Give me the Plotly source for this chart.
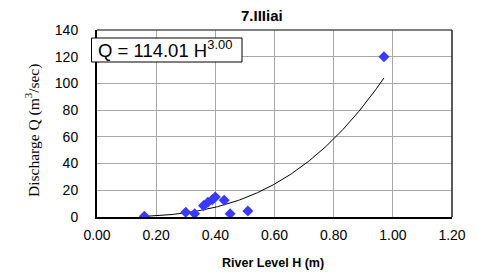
import numpy as np
import plotly.graph_objects as go

# Data
river_level_h = [0.16, 0.30, 0.33, 0.36, 0.375, 0.39, 0.40, 0.43, 0.45, 0.51, 0.97]
discharge_q = [0.5, 3.5, 2.5, 8.5, 11.0, 13.0, 15.0, 12.5, 2.5, 4.5, 120.0]
fit_coef = 114.01
fit_exp = 3.00
x_ticks = [0.0, 0.2, 0.4, 0.6, 0.8, 1.0, 1.2]
y_ticks = [0, 20, 40, 60, 80, 100, 120, 140]
title_text = "7.IIIiai"

W, H = 477, 276
L, R, T, B = 97, 25, 30, 59
pw, ph = W - L - R, H - T - B

def px_x(p):
    return (p - L) / pw

def px_y(p):
    return (H - B - p) / ph

hc = np.linspace(min(river_level_h), max(river_level_h), 200)
qc = fit_coef * hc ** fit_exp

fig = go.Figure()
fig.add_trace(go.Scatter(x=hc, y=qc, mode="lines",
                         line=dict(color="black", width=1), hoverinfo="skip"))
fig.add_trace(go.Scatter(x=river_level_h, y=discharge_q, mode="markers",
                         marker=dict(symbol="diamond", size=8.5, color="#3a3aff",
                                     line=dict(width=0))))

axis_font = dict(family="Liberation Sans, Arial", size=14, color="black")
fig.update_layout(
    width=W, height=H, showlegend=False,
    margin=dict(l=L, r=R, t=T, b=B),
    paper_bgcolor="white", plot_bgcolor="white",
    xaxis=dict(range=[0, 1.2], tickvals=x_ticks, tickformat=".2f",
               showgrid=True, gridcolor="#a8a8a8", gridwidth=1,
               showline=True, linecolor="black", linewidth=2,
               ticks="outside", ticklen=4, tickcolor="rgba(0,0,0,0)",
               tickfont=axis_font, zeroline=False, fixedrange=True),
    yaxis=dict(range=[0, 140], tickvals=y_ticks,
               showgrid=True, gridcolor="#a8a8a8", gridwidth=1,
               showline=True, linecolor="black", linewidth=2,
               ticks="outside", ticklen=14, tickcolor="rgba(0,0,0,0)",
               tickfont=axis_font, zeroline=False, fixedrange=True),
    shapes=[
        dict(type="line", xref="paper", yref="paper", x0=0, x1=1, y0=1, y1=1,
             line=dict(color="#555555", width=1.5)),
        dict(type="line", xref="paper", yref="paper", x0=1, x1=1, y0=0, y1=1,
             line=dict(color="#222222", width=1.5)),
        dict(type="rect", xref="paper", yref="paper",
             x0=px_x(91.5), x1=px_x(242), y0=px_y(62), y1=px_y(38),
             fillcolor="white", line=dict(color="black", width=1), layer="above"),
    ],
    annotations=[
        dict(text="<b>" + title_text + "</b>", xref="paper", yref="paper",
             x=px_x(262), y=px_y(16), xanchor="center", yanchor="middle",
             showarrow=False, font=dict(family="Liberation Sans, Arial", size=15, color="black")),
        dict(text="<b>River Level H (m)</b>", xref="paper", yref="paper",
             x=px_x(273), y=px_y(263), xanchor="center", yanchor="middle",
             showarrow=False, font=dict(family="Liberation Sans, Arial", size=12.5, color="black")),
        dict(text="Discharge Q (m<sup>3</sup>/sec)", xref="paper", yref="paper",
             x=px_x(32), y=px_y(131), xanchor="center", yanchor="middle", textangle=-90,
             showarrow=False, font=dict(family="Liberation Serif, Times New Roman", size=15.5, color="black")),
        dict(text="Q = 114.01 H<sup>3.00</sup>", xref="paper", yref="paper",
             x=px_x(96.5), y=px_y(49), xanchor="left", yanchor="middle",
             showarrow=False, borderpad=0,
             font=dict(family="Liberation Sans, Arial", size=18.5, color="black")),
    ],
)

fig.write_html("out.html", config={"displayModeBar": False},
               post_script="document.body.style.margin='0';document.body.style.overflow='hidden';")
